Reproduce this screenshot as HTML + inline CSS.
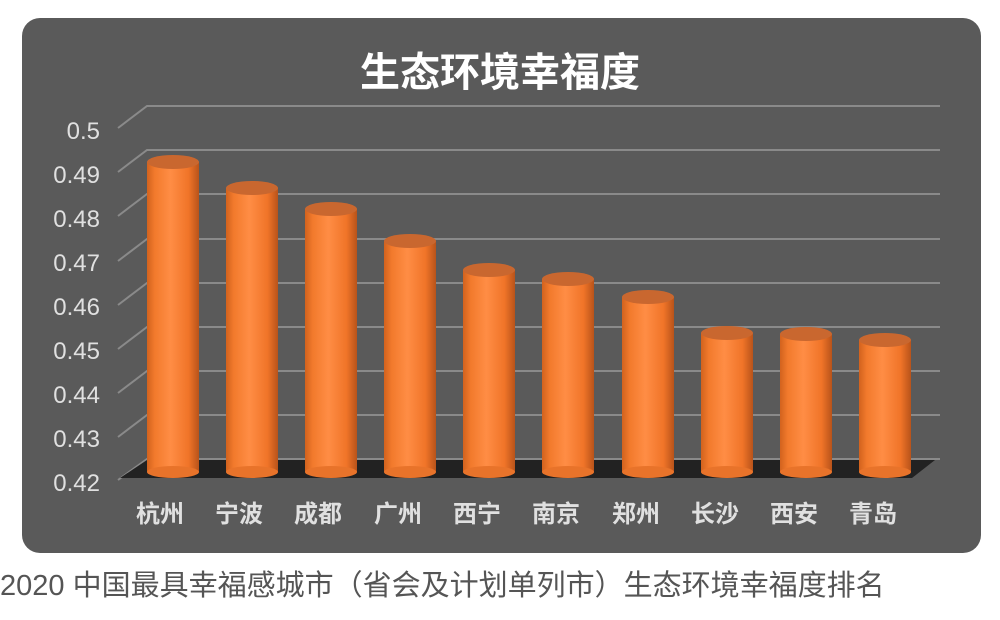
<!DOCTYPE html>
<html><head><meta charset="utf-8"><style>
body{margin:0;background:#fff;width:1000px;height:615px;overflow:hidden}
</style></head><body>
<svg width="1000" height="615" xmlns="http://www.w3.org/2000/svg" font-family="Liberation Sans, Noto Sans CJK SC, sans-serif">
<defs>
<linearGradient id="g" x1="0" x2="1" y1="0" y2="0">
<stop offset="0" stop-color="#d2621e"/><stop offset="0.15" stop-color="#f27a2c"/><stop offset="0.45" stop-color="#ff8d45"/><stop offset="0.8" stop-color="#f07428"/><stop offset="1" stop-color="#b8531a"/>
</linearGradient>
</defs>
<rect x="22" y="18" width="959" height="535" rx="18" fill="#5a5a5a"/>
<text x="500" y="86" text-anchor="middle" font-size="40" font-weight="bold" fill="#fff" font-family="Noto Sans CJK SC, sans-serif">生态环境幸福度</text>
<g stroke="#8a8a8a" stroke-width="2" fill="none">
<path d="M118 128 L147 106 H940"/><path d="M118 172 L147 150 H940"/><path d="M118 216 L147 194 H940"/><path d="M118 261 L147 239 H940"/><path d="M118 305 L147 283 H940"/><path d="M118 349 L147 327 H940"/><path d="M118 393 L147 371 H940"/><path d="M118 437 L147 415 H940"/><path d="M118 480 L147 459 H940"/>
</g>
<polygon points="120,478 147,460 935,460 912,478" fill="#222"/>
<g font-size="24" fill="#e0e0e0" text-anchor="end">
<text x="100" y="139">0.5</text><text x="100" y="183">0.49</text><text x="100" y="227">0.48</text><text x="100" y="271">0.47</text><text x="100" y="315">0.46</text><text x="100" y="359">0.45</text><text x="100" y="403">0.44</text><text x="100" y="447">0.43</text><text x="100" y="491">0.42</text>
</g>
<g>
<g><rect x="147" y="162" width="52" height="310" fill="url(#g)"/><ellipse cx="173" cy="472" rx="26" ry="6" fill="#e8732a"/><ellipse cx="173" cy="162" rx="26" ry="7" fill="#c9672f"/></g>
<g><rect x="226" y="188" width="52" height="284" fill="url(#g)"/><ellipse cx="252" cy="472" rx="26" ry="6" fill="#e8732a"/><ellipse cx="252" cy="188" rx="26" ry="7" fill="#c9672f"/></g>
<g><rect x="305" y="209" width="52" height="263" fill="url(#g)"/><ellipse cx="331" cy="472" rx="26" ry="6" fill="#e8732a"/><ellipse cx="331" cy="209" rx="26" ry="7" fill="#c9672f"/></g>
<g><rect x="384" y="241" width="52" height="231" fill="url(#g)"/><ellipse cx="410" cy="472" rx="26" ry="6" fill="#e8732a"/><ellipse cx="410" cy="241" rx="26" ry="7" fill="#c9672f"/></g>
<g><rect x="463" y="270" width="52" height="202" fill="url(#g)"/><ellipse cx="489" cy="472" rx="26" ry="6" fill="#e8732a"/><ellipse cx="489" cy="270" rx="26" ry="7" fill="#c9672f"/></g>
<g><rect x="542" y="279" width="52" height="193" fill="url(#g)"/><ellipse cx="568" cy="472" rx="26" ry="6" fill="#e8732a"/><ellipse cx="568" cy="279" rx="26" ry="7" fill="#c9672f"/></g>
<g><rect x="622" y="297" width="52" height="175" fill="url(#g)"/><ellipse cx="648" cy="472" rx="26" ry="6" fill="#e8732a"/><ellipse cx="648" cy="297" rx="26" ry="7" fill="#c9672f"/></g>
<g><rect x="701" y="333" width="52" height="139" fill="url(#g)"/><ellipse cx="727" cy="472" rx="26" ry="6" fill="#e8732a"/><ellipse cx="727" cy="333" rx="26" ry="7" fill="#c9672f"/></g>
<g><rect x="780" y="334" width="52" height="138" fill="url(#g)"/><ellipse cx="806" cy="472" rx="26" ry="6" fill="#e8732a"/><ellipse cx="806" cy="334" rx="26" ry="7" fill="#c9672f"/></g>
<g><rect x="859" y="340" width="52" height="132" fill="url(#g)"/><ellipse cx="885" cy="472" rx="26" ry="6" fill="#e8732a"/><ellipse cx="885" cy="340" rx="26" ry="7" fill="#c9672f"/></g>
</g>
<g font-size="24" font-weight="bold" fill="#e0e0e0" text-anchor="middle" font-family="Noto Sans CJK SC, sans-serif">
<text x="160" y="522">杭州</text><text x="239" y="522">宁波</text><text x="318" y="522">成都</text><text x="398" y="522">广州</text><text x="477" y="522">西宁</text><text x="556" y="522">南京</text><text x="636" y="522">郑州</text><text x="715" y="522">长沙</text><text x="794" y="522">西安</text><text x="873" y="522">青岛</text>
</g>
<text x="0" y="595" font-size="29" fill="#555" font-family="Liberation Sans, Noto Sans CJK SC, sans-serif">2020 中国最具幸福感城市（省会及计划单列市）生态环境幸福度排名</text>
</svg>
</body></html>
